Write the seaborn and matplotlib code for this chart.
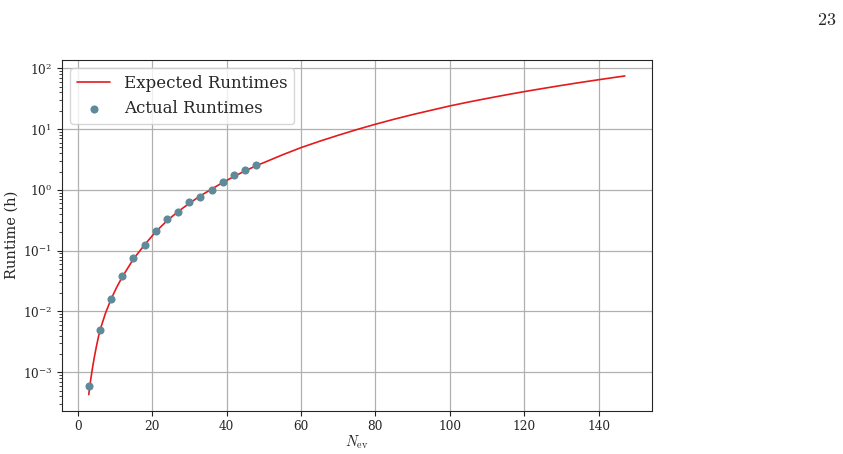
import pandas as pd
import matplotlib.pyplot as plt
import numpy as np
import seaborn as sns

# expected runtime curve (hours)
n_expected = [3, 3.5, 4, 4.5, 5, 5.5, 6, 7.5, 9, 10.5, 12, 15, 18, 21, 24, 27, 30,
              33, 36, 39, 42, 45, 48, 50, 55, 60, 65, 70, 75, 80, 85, 90, 95,
              100, 105, 110, 115, 120, 125, 130, 135, 140, 145, 147]
t_expected = [4.3e-4, 7.4e-4, 1.18e-3, 1.78e-3, 2.57e-3, 3.58e-3, 4.9e-3, 9.4e-3,
              0.016, 0.025, 0.037, 0.073, 0.125, 0.205, 0.31, 0.44, 0.6,
              0.8, 1.03, 1.32, 1.66, 2.05, 2.5, 2.8, 3.76, 4.95, 6.3, 7.9, 9.8,
              12.0, 14.5, 17.3, 20.4, 24.0, 27.8, 31.9, 36.4, 41.3, 46.5, 52.2,
              58.3, 64.8, 71.8, 74.7]

# measured runtimes (hours)
n_actual = [3, 6, 9, 12, 15, 18, 21, 24, 27, 30, 33, 36, 39, 42, 45, 48]
t_actual = [5.9e-4, 4.9e-3, 0.0161, 0.038, 0.075, 0.126, 0.213, 0.326, 0.425,
            0.636, 0.776, 1.0, 1.37, 1.74, 2.13, 2.58]

df_exp = pd.DataFrame({'n': n_expected, 't': t_expected})
df_act = pd.DataFrame({'n': n_actual, 't': t_actual})

sns.set_style('ticks')
plt.rcParams['font.family'] = ['DejaVu Serif']
plt.rcParams['mathtext.fontset'] = 'dejavuserif'

fig = plt.figure(figsize=(8.43, 4.54), dpi=100)
ax = fig.add_axes([0.0735, 0.0958, 0.6995, 0.772])

sns.lineplot(data=df_exp, x='n', y='t', color='#e41a1c', linewidth=1.2,
             label='Expected Runtimes', ax=ax)
sns.scatterplot(data=df_act, x='n', y='t', color='#5f8a9a', s=34, linewidth=0,
                label='Actual Runtimes', ax=ax, zorder=3)

ax.set_yscale('log')
ax.grid(True, which='major', color='#b0b0b0', linewidth=0.9)
ax.set_axisbelow(True)
ax.tick_params(labelsize=8.7, length=3.5, width=0.8, color='#222222')
ax.tick_params(axis='y', which='minor', length=2, width=0.6, color='#222222', left=True)
ax.set_ylabel('Runtime (h)', fontsize=10.5, labelpad=3)
ax.set_xlabel(r'$N_{\mathrm{ev}}$', fontsize=10.5, math_fontfamily='cm', labelpad=0)
ax.legend(loc='upper left', fontsize=12, frameon=True)

fig.text(0.992, 0.955, r'$23$', fontsize=13, ha='right', va='center',
         math_fontfamily='cm')

plt.savefig('out.png', dpi=100)
